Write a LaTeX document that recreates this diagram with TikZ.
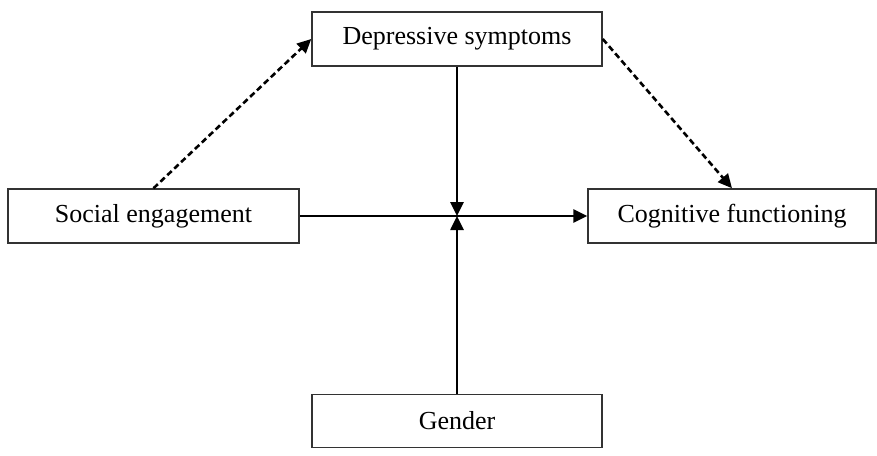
\documentclass[tikz,border=0pt]{standalone}
\usepackage{fontspec}
\setmainfont{Liberation Serif}
\usetikzlibrary{arrows.meta}
\begin{document}
\begin{tikzpicture}[x=1pt,y=-1pt,
  box/.style={draw=black!80, line width=1.5pt, rectangle, minimum width=290pt, minimum height=54pt, inner sep=0pt, font=\fontsize{26}{30}\selectfont},
  conn/.style={line width=2.6pt, -{Triangle[length=14pt,width=13pt]}},
  dconn/.style={conn, dash pattern=on 6pt off 3.5pt}]
\useasboundingbox (0,0) rectangle (877,455);
\node[box] (dep) at (457,39) {Depressive symptoms};
\node[box, minimum width=291pt] (soc) at (153.5,216) {Social engagement};
\node[box, minimum width=288pt] (cog) at (732,216) {Cognitive functioning};
\node[box, minimum height=53pt] (gen) at (457,421) {Gender};
\coordinate (J) at (457,216);
\draw[dconn] (soc.north) -- (dep.west);
\draw[dconn] (dep.east) -- (cog.north);
\draw[conn] (soc.east) -- (cog.west);
\draw[conn] (dep.south) -- (J);
\draw[conn] (gen.north) -- (J);
\end{tikzpicture}
\end{document}
